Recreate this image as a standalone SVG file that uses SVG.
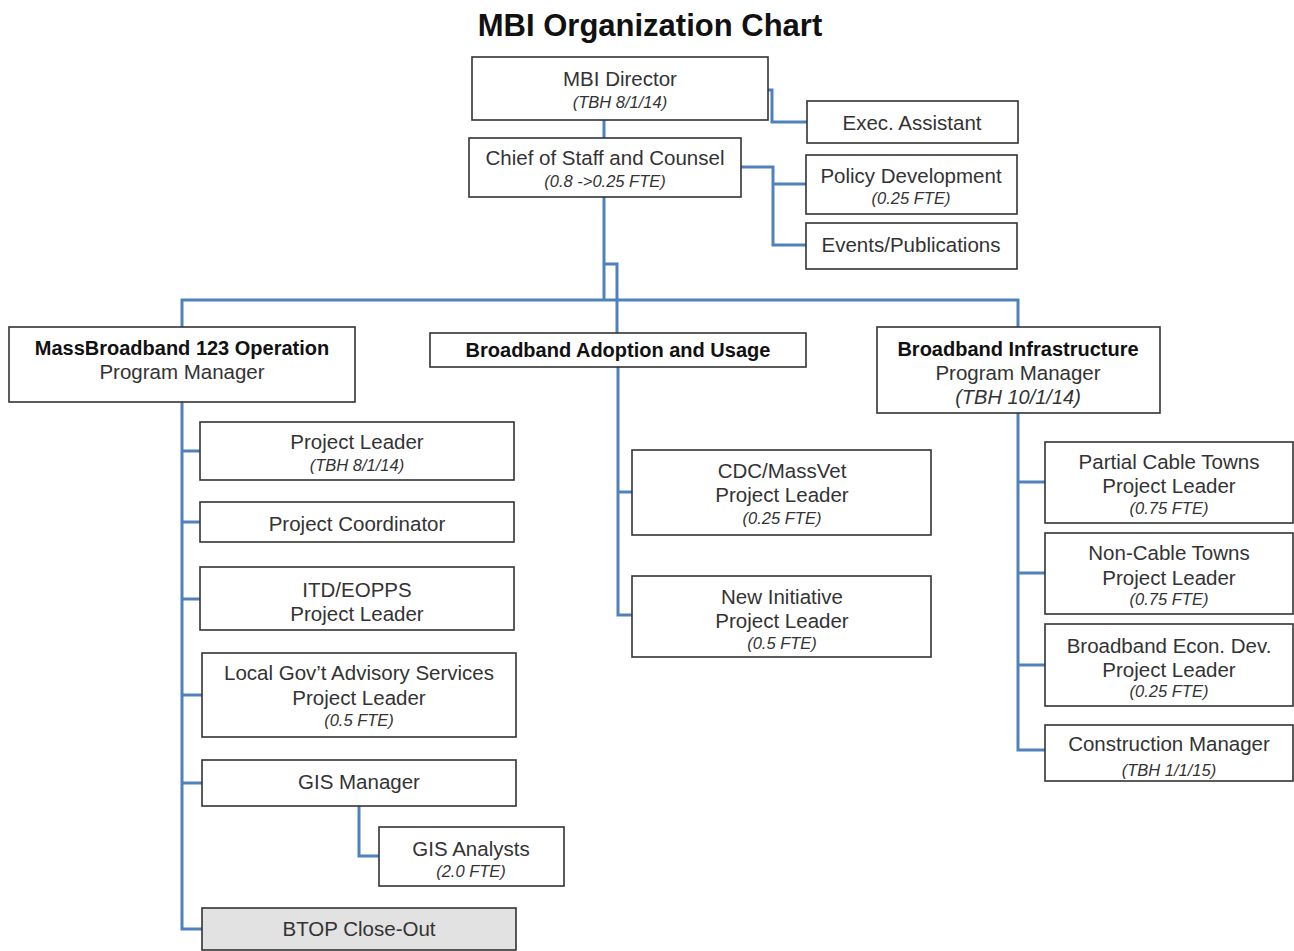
<svg xmlns="http://www.w3.org/2000/svg" width="1294" height="951" viewBox="0 0 1294 951">
<style>
.box{fill:#fff;stroke:#333;stroke-width:1.6}
.grey{fill:#e2e2e2}
.t{font-family:"Liberation Sans",Arial,sans-serif;font-size:20.5px;fill:#333;text-anchor:middle}
.b{font-weight:bold;font-size:20px;fill:#111}
.i{font-style:italic;font-size:16.5px}
.ib{font-style:italic;font-size:20px}
.c{fill:none;stroke:#4f81bd;stroke-width:3}
.title{font-family:"Liberation Sans",Arial,sans-serif;font-size:31px;font-weight:bold;fill:#111;text-anchor:middle}
</style>
<rect width="1294" height="951" fill="#fff"/>
<text class="title" x="650" y="36">MBI Organization Chart</text>
<g id="connectors">
<path class="c" d="M768 90H772V122H807"/>
<path class="c" d="M604 120V138"/>
<path class="c" d="M741 167H773V245H806M773 184H806"/>
<path class="c" d="M604 197V300M604 264H617V333"/>
<path class="c" d="M182 327V300H1018V327"/>
<path class="c" d="M182 402V929H202M182 451H200M182 522H200M182 599H200M182 695H202M182 783H202"/>
<path class="c" d="M359 806V856H379"/>
<path class="c" d="M618 367V615H632M618 492H632"/>
<path class="c" d="M1018 413V750H1045M1018 482H1045M1018 573H1045M1018 665H1045"/>
</g>
<g id="director"><rect class="box" x="472" y="57" width="296" height="63"/><text class="t" x="620" y="86">MBI Director</text><text class="t i" x="620" y="108">(TBH 8/1/14)</text></g>
<g id="exec"><rect class="box" x="807" y="101" width="211" height="42"/><text class="t" x="912" y="130">Exec. Assistant</text></g>
<g id="chief"><rect class="box" x="469" y="138" width="272" height="59"/><text class="t" x="605" y="165">Chief of Staff and Counsel</text><text class="t i" x="605" y="187">(0.8 -&gt;0.25 FTE)</text></g>
<g id="policy"><rect class="box" x="806" y="155" width="211" height="59"/><text class="t" x="911" y="183">Policy Development</text><text class="t i" x="911" y="204">(0.25 FTE)</text></g>
<g id="events"><rect class="box" x="806" y="223" width="211" height="46"/><text class="t" x="911" y="252">Events/Publications</text></g>
<g id="mb123"><rect class="box" x="9" y="327" width="346" height="75"/><text class="t b" x="182" y="355">MassBroadband 123 Operation</text><text class="t" x="182" y="379">Program Manager</text></g>
<g id="adoption"><rect class="box" x="430" y="333" width="376" height="34"/><text class="t b" x="618" y="357">Broadband Adoption and Usage</text></g>
<g id="infra"><rect class="box" x="877" y="327" width="283" height="86"/><text class="t b" x="1018" y="356">Broadband Infrastructure</text><text class="t" x="1018" y="380">Program Manager</text><text class="t ib" x="1018" y="404">(TBH 10/1/14)</text></g>
<g id="pl"><rect class="box" x="200" y="422" width="314" height="58"/><text class="t" x="357" y="449">Project Leader</text><text class="t i" x="357" y="471">(TBH 8/1/14)</text></g>
<g id="pc"><rect class="box" x="200" y="502" width="314" height="40"/><text class="t" x="357" y="531">Project Coordinator</text></g>
<g id="itd"><rect class="box" x="200" y="567" width="314" height="63"/><text class="t" x="357" y="597">ITD/EOPPS</text><text class="t" x="357" y="621">Project Leader</text></g>
<g id="localgov"><rect class="box" x="202" y="653" width="314" height="84"/><text class="t" x="359" y="680">Local Gov’t Advisory Services</text><text class="t" x="359" y="705">Project Leader</text><text class="t i" x="359" y="726">(0.5 FTE)</text></g>
<g id="gism"><rect class="box" x="202" y="760" width="314" height="46"/><text class="t" x="359" y="789">GIS Manager</text></g>
<g id="gisa"><rect class="box" x="379" y="827" width="185" height="59"/><text class="t" x="471" y="856">GIS Analysts</text><text class="t i" x="471" y="877">(2.0 FTE)</text></g>
<g id="btop"><rect class="box grey" x="202" y="908" width="314" height="42"/><text class="t" x="359" y="936">BTOP Close-Out</text></g>
<g id="cdc"><rect class="box" x="632" y="450" width="299" height="85"/><text class="t" x="782" y="478">CDC/MassVet</text><text class="t" x="782" y="502">Project Leader</text><text class="t i" x="782" y="524">(0.25 FTE)</text></g>
<g id="newinit"><rect class="box" x="632" y="576" width="299" height="81"/><text class="t" x="782" y="604">New Initiative</text><text class="t" x="782" y="628">Project Leader</text><text class="t i" x="782" y="649">(0.5 FTE)</text></g>
<g id="partial"><rect class="box" x="1045" y="442" width="248" height="81"/><text class="t" x="1169" y="469">Partial Cable Towns</text><text class="t" x="1169" y="493">Project Leader</text><text class="t i" x="1169" y="514">(0.75 FTE)</text></g>
<g id="noncable"><rect class="box" x="1045" y="533" width="248" height="81"/><text class="t" x="1169" y="560">Non-Cable Towns</text><text class="t" x="1169" y="585">Project Leader</text><text class="t i" x="1169" y="605">(0.75 FTE)</text></g>
<g id="econ"><rect class="box" x="1045" y="624" width="248" height="82"/><text class="t" x="1169" y="653">Broadband Econ. Dev.</text><text class="t" x="1169" y="677">Project Leader</text><text class="t i" x="1169" y="697">(0.25 FTE)</text></g>
<g id="construction"><rect class="box" x="1045" y="725" width="248" height="56"/><text class="t" x="1169" y="751">Construction Manager</text><text class="t i" x="1169" y="776">(TBH 1/1/15)</text></g>
</svg>
